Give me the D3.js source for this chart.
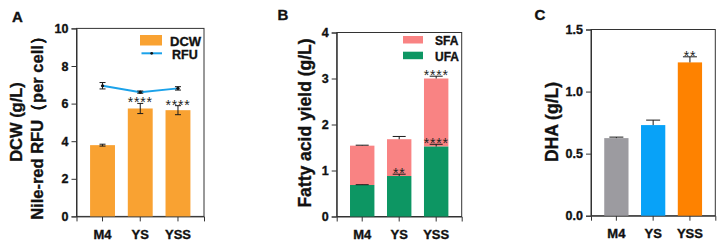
<!DOCTYPE html>
<html>
<head>
<meta charset="utf-8">
<script src="https://cdn.jsdelivr.net/npm/d3@7/dist/d3.min.js"></script>
<style>
  html, body { margin: 0; padding: 0; background: #fff; }
  svg { display: block; }
  text { font-family: "Liberation Sans", Arial, sans-serif; }
  .heavy { stroke: #111; stroke-width: 0.35px; }
</style>
</head>
<body>
<svg id="chart" width="724" height="247"></svg>
<script>
// ---------- data ----------
const categories = ["M4", "YS", "YSS"];

// Panel A
const dcw = [3.79, 5.74, 5.65];
const dcwErr = [0.05, 0.27, 0.24];
const dcwSig = ["", "****", "****"];
const rfu = [6.95, 6.61, 6.81];
const rfuErr = [0.17, 0.06, 0.09];
const ticksA = [0, 2, 4, 6, 8, 10];

// Panel B
const ufa = [0.685, 0.88, 1.52];
const ufaErr = [0.006, 0.04, 0.05];
const ufaSig = ["", "**", "****"];
const sfa = [0.855, 0.80, 1.48];
const totalErr = [0.01, 0.06, 0.05];
const totalSig = ["", "", "****"];
const ticksB = [0, 1, 2, 3, 4];

// Panel C
const dha = [0.625, 0.73, 1.235];
const dhaErr = [0.008, 0.04, 0.045];
const dhaSig = ["", "", "**"];
const ticksC = [0, 0.5, 1.0, 1.5];

// ---------- styles ----------
const axisColor = "#333";
const orangeA = "#f9a232";
const blueLine = "#1ba2ea";
const sfaColor = "#f98383";
const ufaColor = "#0d9663";
const dhaColors = ["#9c9ba0", "#08a2f8", "#fe8200"];

const svg = d3.select("#chart");

function makePanel(opts) {
  const g = svg.append("g");
  const x = d3.scaleBand().domain(categories)
    .range([opts.x0, opts.x1]).paddingInner(0.34).paddingOuter(0.36);
  const y = d3.scaleLinear().domain(opts.domain).range([opts.yb, opts.yt]);
  // frame
  g.append("rect").attr("x", opts.x0).attr("y", opts.yt)
    .attr("width", opts.x1 - opts.x0).attr("height", opts.yb - opts.yt)
    .attr("fill", "none").attr("stroke", axisColor).attr("stroke-width", 1);
  // y axis
  const ya = g.append("g").attr("transform", `translate(${opts.x0},0)`)
    .call(d3.axisLeft(y).tickValues(opts.ticks).tickFormat(opts.fmt).tickSize(5).tickPadding(3));
  ya.select(".domain").attr("stroke", axisColor);
  ya.selectAll(".tick line").attr("stroke", axisColor);
  ya.selectAll(".tick text").attr("font-size", 12.5).attr("font-weight", "bold").attr("class", "heavy")
    .attr("fill", "#111").attr("font-family", "Liberation Sans, Arial, sans-serif");
  // x axis
  const xa = g.append("g").attr("transform", `translate(0,${opts.yb})`)
    .call(d3.axisBottom(x).tickSize(5).tickPadding(8));
  xa.select(".domain").attr("stroke", axisColor);
  xa.selectAll(".tick line").attr("stroke", axisColor);
  xa.selectAll(".tick text").attr("font-size", 13).attr("font-weight", "bold").attr("class", "heavy")
    .attr("fill", "#111").attr("font-family", "Liberation Sans, Arial, sans-serif");
  // panel letter
  g.append("text").attr("x", opts.letterX).attr("y", opts.letterY).attr("class", "heavy")
    .attr("font-size", 15).attr("font-weight", "bold").attr("fill", "#111").text(opts.letter);
  return {g, x, y};
}

function errBar(g, cx, yTop, yBot, capW) {
  g.append("line").attr("x1", cx).attr("x2", cx).attr("y1", yTop).attr("y2", yBot)
    .attr("stroke", "#1a1a1a").attr("stroke-width", 1);
  g.append("line").attr("x1", cx - capW / 2).attr("x2", cx + capW / 2).attr("y1", yTop).attr("y2", yTop)
    .attr("stroke", "#1a1a1a").attr("stroke-width", 1);
}
function errBarBoth(g, cx, yTop, yBot, capW) {
  errBar(g, cx, yTop, yBot, capW);
  g.append("line").attr("x1", cx - capW / 2).attr("x2", cx + capW / 2).attr("y1", yBot).attr("y2", yBot)
    .attr("stroke", "#1a1a1a").attr("stroke-width", 1);
}
function stars(g, cx, yTop, s) {
  if (!s) return;
  g.append("text").attr("x", cx).attr("y", yTop + 4).attr("text-anchor", "middle")
    .attr("font-size", 14).attr("fill", "#222").attr("letter-spacing", 0.8).text(s);
}
function yLabel(g, cx, cy, fs, txt) {
  g.append("text").attr("transform", `translate(${cx + fs * 0.36},${cy}) rotate(-90)`)
    .attr("text-anchor", "middle").attr("font-size", fs).attr("font-weight", "bold").attr("class", "heavy")
    .attr("fill", "#111").text(txt);
}

// ---------- Panel A ----------
{
  const {g, x, y} = makePanel({x0: 76.5, x1: 204, yb: 216.4, yt: 28.4, domain: [0, 10],
    ticks: ticksA, fmt: d3.format("d"), letter: "A", letterX: 12, letterY: 21.5});
  g.selectAll(".barA").data(dcw).enter().append("rect")
    .attr("x", (d, i) => x(categories[i])).attr("width", x.bandwidth())
    .attr("y", d => y(d)).attr("height", d => y(0) - y(d)).attr("fill", orangeA);
  dcw.forEach((d, i) => {
    const cx = x(categories[i]) + x.bandwidth() / 2;
    errBarBoth(g, cx, y(d + dcwErr[i]), y(d - dcwErr[i]), 6);
    stars(g, cx, y(d + dcwErr[i]), dcwSig[i]);
  });
  const line = d3.line().x((d, i) => x(categories[i]) + x.bandwidth() / 2).y(d => y(d));
  g.append("path").datum(rfu).attr("d", line).attr("fill", "none")
    .attr("stroke", blueLine).attr("stroke-width", 2);
  rfu.forEach((d, i) => {
    const cx = x(categories[i]) + x.bandwidth() / 2;
    errBarBoth(g, cx, y(d + rfuErr[i]), y(d - rfuErr[i]), 6);
    g.append("circle").attr("cx", cx).attr("cy", y(d)).attr("r", 1.6).attr("fill", "#111");
  });
  // legend
  g.append("rect").attr("x", 140).attr("y", 35).attr("width", 22).attr("height", 10.5).attr("fill", orangeA);
  g.append("text").attr("x", 170).attr("y", 45.5).attr("font-size", 13).attr("font-weight", "bold")
    .attr("class", "heavy").attr("fill", "#111").text("DCW");
  g.append("line").attr("x1", 141.5).attr("x2", 162).attr("y1", 53.3).attr("y2", 53.3)
    .attr("stroke", blueLine).attr("stroke-width", 2);
  g.append("circle").attr("cx", 151.7).attr("cy", 53.3).attr("r", 1.4).attr("fill", "#111");
  g.append("text").attr("x", 172).attr("y", 59).attr("font-size", 12.5).attr("font-weight", "bold")
    .attr("class", "heavy").attr("fill", "#111").text("RFU");
  yLabel(g, 16, 122, 16.5, "DCW (g/L)");
  yLabel(g, 36.7, 124, 16.5, "Nile-red RFU（per cell）");
}

// ---------- Panel B ----------
{
  const {g, x, y} = makePanel({x0: 336.7, x1: 461.7, yb: 216.5, yt: 32.5, domain: [0, 4],
    ticks: ticksB, fmt: d3.format("d"), letter: "B", letterX: 277.5, letterY: 20});
  const stack = categories.map((c, i) => ({c, ufa: ufa[i], total: ufa[i] + sfa[i]}));
  g.selectAll(".sfa").data(stack).enter().append("rect")
    .attr("x", d => x(d.c)).attr("width", x.bandwidth())
    .attr("y", d => y(d.total)).attr("height", d => y(d.ufa) - y(d.total)).attr("fill", sfaColor);
  g.selectAll(".ufa").data(stack).enter().append("rect")
    .attr("x", d => x(d.c)).attr("width", x.bandwidth())
    .attr("y", d => y(d.ufa)).attr("height", d => y(0) - y(d.ufa)).attr("fill", ufaColor);
  stack.forEach((d, i) => {
    const cx = x(d.c) + x.bandwidth() / 2;
    errBar(g, cx, y(d.total + totalErr[i]), y(d.total), 13);
    errBar(g, cx, y(d.ufa + ufaErr[i]), y(d.ufa), 13);
    stars(g, cx, y(d.total + totalErr[i]), totalSig[i]);
    stars(g, cx, y(d.ufa + ufaErr[i]), ufaSig[i]);
  });
  g.append("rect").attr("x", 403).attr("y", 36).attr("width", 20).attr("height", 7.5).attr("fill", sfaColor);
  g.append("text").attr("x", 435).attr("y", 44.5).attr("font-size", 12).attr("font-weight", "bold")
    .attr("class", "heavy").attr("fill", "#111").text("SFA");
  g.append("rect").attr("x", 403).attr("y", 51.7).attr("width", 20).attr("height", 7.5).attr("fill", ufaColor);
  g.append("text").attr("x", 435).attr("y", 60.5).attr("font-size", 12).attr("font-weight", "bold")
    .attr("class", "heavy").attr("fill", "#111").text("UFA");
  yLabel(g, 305, 123, 17.5, "Fatty acid yield (g/L)");
}

// ---------- Panel C ----------
{
  const {g, x, y} = makePanel({x0: 591, x1: 715.3, yb: 215.7, yt: 29.5, domain: [0, 1.5],
    ticks: ticksC, fmt: d3.format(".1f"), letter: "C", letterX: 534.5, letterY: 20});
  g.selectAll(".dha").data(dha).enter().append("rect")
    .attr("x", (d, i) => x(categories[i])).attr("width", x.bandwidth())
    .attr("y", d => y(d)).attr("height", d => y(0) - y(d)).attr("fill", (d, i) => dhaColors[i]);
  dha.forEach((d, i) => {
    const cx = x(categories[i]) + x.bandwidth() / 2;
    errBar(g, cx, y(d + dhaErr[i]), y(d), 14);
    stars(g, cx, y(d + dhaErr[i]), dhaSig[i]);
  });
  yLabel(g, 551.7, 122, 17.5, "DHA (g/L)");
}
</script>
</body>
</html>
